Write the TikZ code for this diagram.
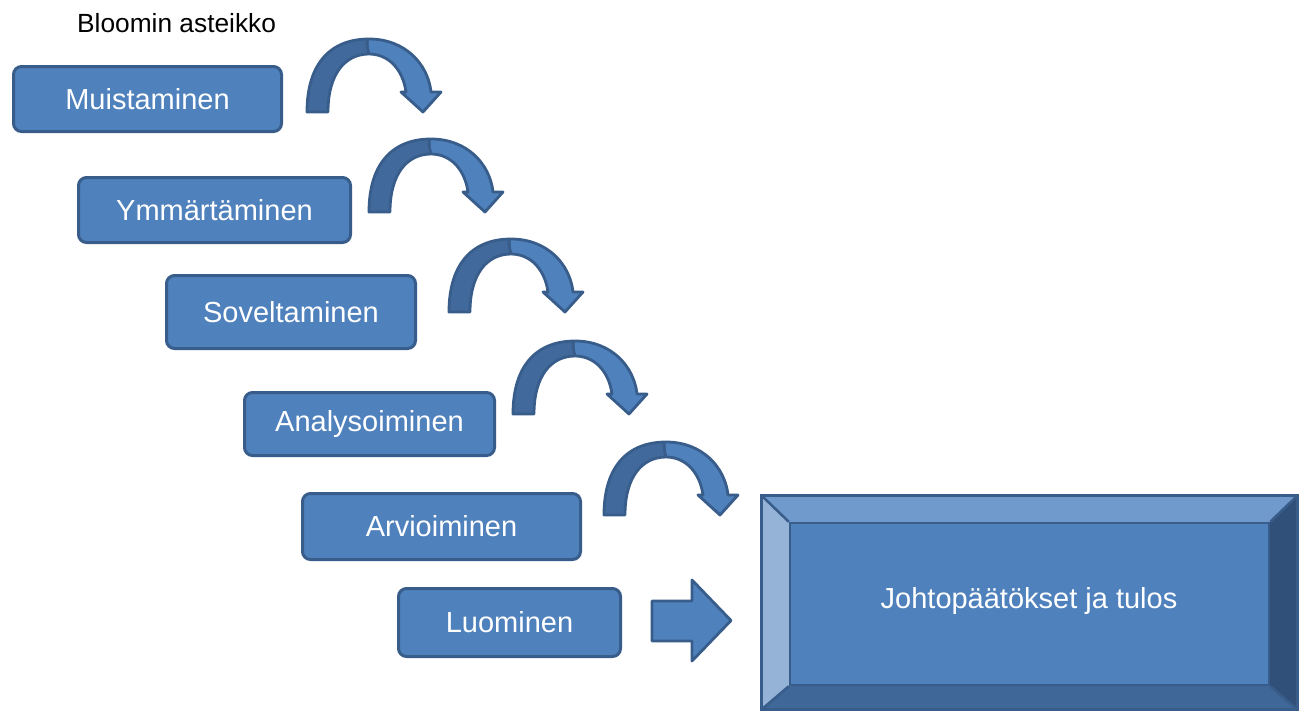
\documentclass[tikz,border=0pt]{standalone}
\usepackage{fontspec}
\setmainfont{Liberation Sans}
\definecolor{boxfill}{HTML}{4F81BD}
\definecolor{boxline}{HTML}{385D8A}
\definecolor{backfill}{HTML}{41699B}
\definecolor{bevtop}{HTML}{7099CC}
\definecolor{bevleft}{HTML}{95B3D7}
\definecolor{bevright}{HTML}{30507A}
\definecolor{bevbot}{HTML}{3F6797}
\newcommand{\bloomarrow}[1]{%
  \begin{scope}[shift={(#1)}]
    \fill[backfill] (0,0) .. controls (0,-50) and (25,-73) .. (62,-73)
      -- (62,-58) .. controls (38,-58) and (21,-38) .. (21,0) -- cycle;
    \fill[boxfill] (62,-73) .. controls (98,-73) and (121,-48) .. (124,-20)
      -- (134,-20) -- (116,0) -- (94,-20) -- (99,-20)
      .. controls (96,-42) and (82,-58) .. (62,-58) -- cycle;
    \draw[arrline] (0,0) .. controls (0,-50) and (25,-73) .. (62,-73)
      .. controls (98,-73) and (121,-48) .. (124,-20)
      -- (134,-20) -- (116,0) -- (94,-20) -- (99,-20)
      .. controls (96,-42) and (82,-58) .. (62,-58)
      .. controls (38,-58) and (21,-38) .. (21,0) -- cycle;
    \draw[arrline] (60,-73) .. controls (60,-66) .. (62,-58);
  \end{scope}}
\begin{document}
\begin{tikzpicture}[x=1pt,y=-1pt,
  stepbox/.style={draw=boxline, fill=boxfill, line width=3pt, rounded corners=8pt,
    text=white, font=\fontsize{29}{34}\selectfont, inner sep=0pt, anchor=center},
  arrline/.style={draw=boxline, line width=2.8pt, line join=round}]
\useasboundingbox (0,0) rectangle (1304,713);
\fill[white] (0,0) rectangle (1304,713);

\node[anchor=base west, font=\fontsize{26.3}{30}\selectfont, inner sep=0pt] (title) at (77,32) {Bloomin asteikko};

\node[stepbox, minimum width=268pt, minimum height=65pt] (b1) at (147.5,99) {Muistaminen};
\node[stepbox, minimum width=272pt, minimum height=65pt] (b2) at (214.5,210) {Ymmärtäminen};
\node[stepbox, minimum width=249pt, minimum height=73pt] (b3) at (291,312) {Soveltaminen};
\node[stepbox, minimum width=250pt, minimum height=63pt] (b4) at (369.5,424) {Analysoiminen};
\node[stepbox, minimum width=278pt, minimum height=66pt] (b5) at (441.5,526.5) {Arvioiminen};
\node[stepbox, minimum width=222pt, minimum height=68pt] (b6) at (509.5,622.5) {Luominen};

\coordinate (a1) at (307,112);
\coordinate (a2) at (369,212);
\coordinate (a3) at (449,312);
\coordinate (a4) at (513,414);
\coordinate (a5) at (604,515);
\bloomarrow{a1}
\bloomarrow{a2}
\bloomarrow{a3}
\bloomarrow{a4}
\bloomarrow{a5}

% straight arrow
\coordinate (s0) at (652,601);
\draw[arrline, fill=boxfill] (s0) -- (692,601) -- (692,580) -- (731,620.5) -- (692,661) -- (692,641) -- (652,641) -- cycle;

% bevelled result box
\coordinate (oa) at (761.5,495.5);
\coordinate (ob) at (1297.5,709.5);
\fill[bevtop] (761.5,495.5) -- (1297.5,495.5) -- (1269,523) -- (790,523) -- cycle;
\fill[bevleft] (761.5,495.5) -- (790,523) -- (790,685) -- (761.5,709.5) -- cycle;
\fill[bevright] (1297.5,495.5) -- (1297.5,709.5) -- (1269,685) -- (1269,523) -- cycle;
\fill[bevbot] (761.5,709.5) -- (790,685) -- (1269,685) -- (1297.5,709.5) -- cycle;
\node[draw=boxline, fill=boxfill, line width=2.5pt, minimum width=479pt, minimum height=162pt, inner sep=0pt] (res) at (1029.5,604) {};
\draw[boxline, line width=2.5pt] (761.5,495.5) -- (res.north west) (1297.5,495.5) -- (res.north east)
  (761.5,709.5) -- (res.south west) (1297.5,709.5) -- (res.south east);
\draw[boxline, line width=3pt] (oa) rectangle (ob);
\node[anchor=base, text=white, font=\fontsize{29}{34}\selectfont, inner sep=0pt] (restext) at (1029,608) {Johtopäätökset ja tulos};
\end{tikzpicture}
\end{document}
